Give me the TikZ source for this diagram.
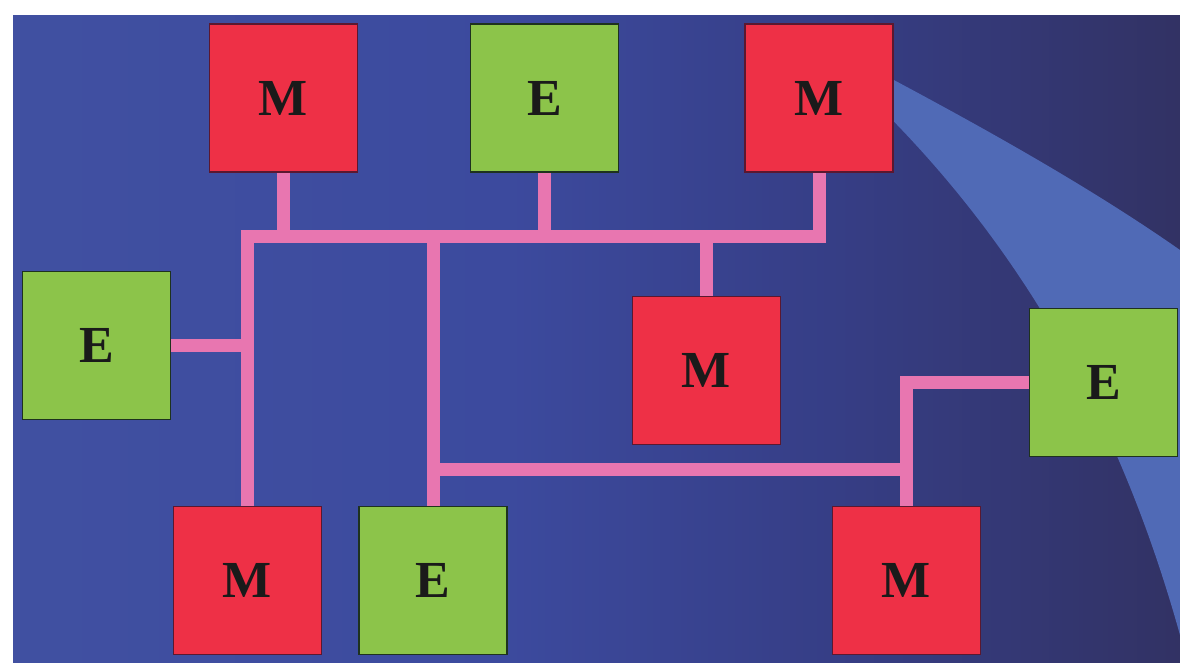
\documentclass[tikz,border=0pt]{standalone}
\usepackage{fontspec}
\setmainfont{Liberation Serif}
\definecolor{panelA}{RGB}{70,88,165}
\definecolor{panelB}{RGB}{60,74,158}
\definecolor{panelC}{RGB}{54,62,134}
\definecolor{panelD}{RGB}{50,50,100}
\definecolor{panelE}{RGB}{44,44,70}
\definecolor{beam}{RGB}{80,106,182}
\definecolor{redbox}{RGB}{238,48,70}
\definecolor{rededge}{RGB}{90,24,48}
\definecolor{greenbox}{RGB}{140,196,74}
\definecolor{greenedge}{RGB}{30,50,30}
\definecolor{wirepink}{RGB}{232,118,176}
\definecolor{letter}{RGB}{26,26,26}
\pgfdeclarehorizontalshading{panelshade}{100bp}{color(0bp)=(panelA); color(46bp)=(panelB); color(60bp)=(panelC); color(75bp)=(panelD); color(100bp)=(panelE)}
\tikzset{
  unit/.style={minimum width=148pt, minimum height=148pt, inner sep=0pt,
    line width=1.5pt, font=\fontsize{52}{52}\selectfont\bfseries, text=letter},
  mbox/.style={unit, fill=redbox, draw=rededge},
  ebox/.style={unit, fill=greenbox, draw=greenedge},
  wire/.style={draw=wirepink, line width=13pt, line join=miter, line cap=butt}
}
\begin{document}
\begin{tikzpicture}[x=1pt, y=-1pt]
  \useasboundingbox (0,0) rectangle (1180,662);
  % panel with left-to-right gradient
  \shade[shading=panelshade] (13,15) rectangle (1180,662);
  % light sweep across the right side
  \fill[beam] (860,62) .. controls (960,115) and (1080,180) .. (1180,250)
    -- (1180,635) .. controls (1120,420) and (1020,240) .. (860,88) -- cycle;

  % bus levels
  \coordinate (busY) at (0,236);
  \coordinate (lowY) at (0,469);

  % units
  \node[mbox] (mTL)  at (283.5,98)   {M};
  \node[ebox] (eT)   at (544.5,98)   {E};
  \node[mbox] (mTR)  at (819,98)     {M};
  \node[ebox] (eL)   at (96.5,345.5) {E};
  \node[mbox] (mMid) at (706.5,370.5){M};
  \node[ebox] (eR)   at (1103.5,382.5){E};
  \node[mbox] (mBL)  at (247.5,580.5){M};
  \node[ebox] (eB)   at (433,580.5)  {E};
  \node[mbox] (mBR)  at (906.5,580.5){M};

  % wiring between the units
  \draw[wire] (mBL.north) -- (mBL.north |- busY) -- (mTR.south |- busY) -- (mTR.south);
  \draw[wire] (mTL.south) -- (mTL.south |- busY);
  \draw[wire] (eT.south) -- (eT.south |- busY);
  \draw[wire] (mMid.north) -- (mMid.north |- busY);
  \draw[wire] (eL.east) -- (eL.east -| mBL.north);
  \draw[wire] (eB.north) -- (eB.north |- busY);
  \draw[wire] (eB.north |- lowY) -- (mBR.north |- lowY);
  \draw[wire] (mBR.north) -- (mBR.north |- eR.west) -- (eR.west);
\end{tikzpicture}
\end{document}
